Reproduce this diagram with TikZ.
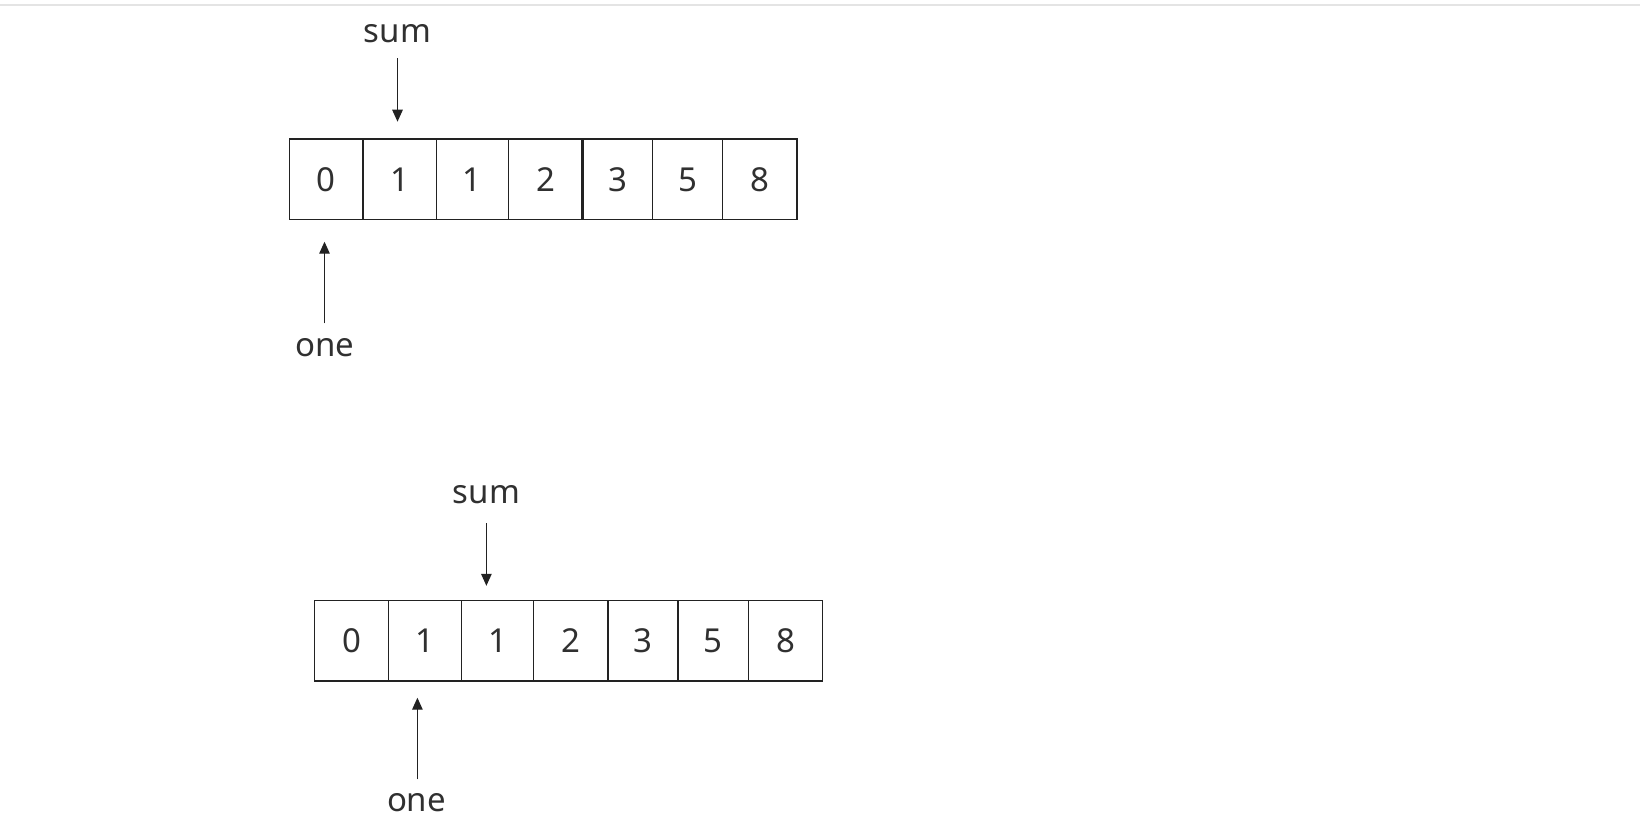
\documentclass[tikz,border=0pt]{standalone}
\usepackage{fontspec}
\setmainfont{Noto Sans}
\usetikzlibrary{arrows.meta}
\definecolor{ink}{RGB}{34,34,34}
\definecolor{txt}{RGB}{48,48,48}
\definecolor{rule}{RGB}{228,228,228}
\begin{document}
\begin{tikzpicture}[x=1pt,y=-1pt,
  cell/.style={draw=ink, line width=1.3pt, inner sep=0pt, outer sep=0pt,
    minimum height=80.6pt, font=\fontsize{33}{40}\selectfont, text=txt},
  lbl/.style={anchor=base, inner sep=0pt, font=\fontsize{33}{40}\selectfont, text=txt},
  arr/.style={-{Triangle[length=12pt,width=10.5pt]}, line width=1.3pt, draw=ink},
  thickdiv/.style={draw=ink, line width=2.6pt}]
\useasboundingbox (0,0) rectangle (1640,832);
\draw[rule, line width=1.5pt] (0,5) -- (1640,5);

% top array
\node[cell, minimum width=73.3pt] (t0) at (326.35,179.4) {0};
\node[cell, minimum width=73.2pt] (t1) at (399.6,179.4) {1};
\node[cell, minimum width=72.2pt] (t2) at (472.3,179.4) {1};
\node[cell, minimum width=74.2pt] (t3) at (545.5,179.4) {2};
\node[cell, minimum width=70.1pt] (t4) at (617.65,179.4) {3};
\node[cell, minimum width=70.1pt] (t5) at (687.75,179.4) {5};
\node[cell, minimum width=74.2pt] (t6) at (759.9,179.4) {8};
\draw[thickdiv] (t3.north east) -- (t3.south east);

\node[lbl] (sumA) at (397.5,42.5) {sum};
\coordinate (sumAs) at (397.5,58.3);
\coordinate (sumAe) at (397.5,121.7);
\draw[arr] (sumAs) -- (sumAe);

\node[lbl] (oneA) at (325,356.5) {one};
\coordinate (oneAs) at (324.5,323.3);
\coordinate (oneAe) at (324.5,241.7);
\draw[arr] (oneAs) -- (oneAe);

% bottom array
\node[cell, minimum width=73.5pt] (b0) at (351.55,640.7) {0};
\node[cell, minimum width=73.2pt] (b1) at (424.9,640.7) {1};
\node[cell, minimum width=72.3pt] (b2) at (497.65,640.7) {1};
\node[cell, minimum width=74.2pt] (b3) at (570.9,640.7) {2};
\node[cell, minimum width=70pt] (b4) at (643,640.7) {3};
\node[cell, minimum width=70.5pt] (b5) at (713.25,640.7) {5};
\node[cell, minimum width=74pt] (b6) at (785.5,640.7) {8};
\draw[thickdiv] (b3.north east) -- (b3.south east);

\node[lbl] (sumB) at (486.4,503.5) {sum};
\coordinate (sumBs) at (486.4,523);
\coordinate (sumBe) at (486.4,585.8);
\draw[arr] (sumBs) -- (sumBe);

\node[lbl] (oneB) at (416.5,811.5) {one};
\coordinate (oneBs) at (417.4,779.3);
\coordinate (oneBe) at (417.4,697.7);
\draw[arr] (oneBs) -- (oneBe);
\end{tikzpicture}
\end{document}
